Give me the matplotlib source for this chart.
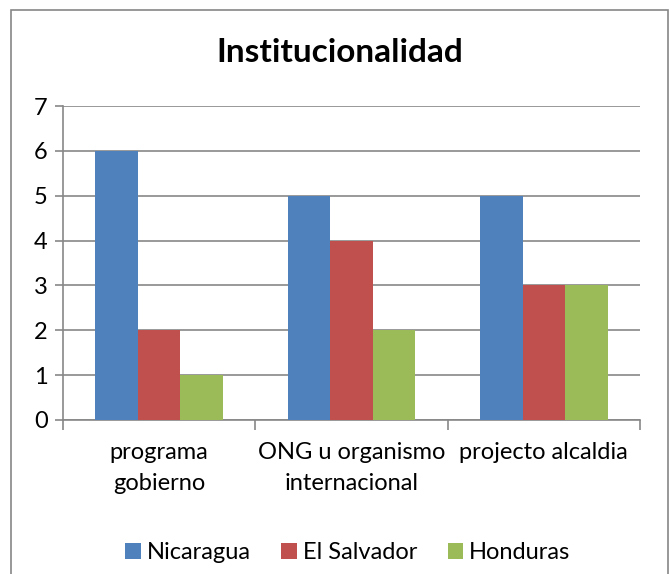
import matplotlib.pyplot as plt
import numpy as np
from matplotlib.patches import Rectangle

plt.rcParams['font.family'] = ['Lato', 'DejaVu Sans']

categories = ['programa\ngobierno', 'ONG u organismo\ninternacional', 'projecto alcaldia']
series = ['Nicaragua', 'El Salvador', 'Honduras']
nicaragua = [6, 5, 5]
el_salvador = [2, 4, 3]
honduras = [1, 2, 3]
colors = ['#4F81BD', '#C0504D', '#9BBB59']

fig = plt.figure(figsize=(6.69, 5.74), dpi=100)
ax = fig.add_axes([0.0942, 0.2683, 0.8625, 0.547])

# outer chart border
fig.patches.append(Rectangle((11 / 669, -0.01), 657 / 669, 1 - 10 / 574 + 0.01,
                             transform=fig.transFigure, fill=False,
                             edgecolor='#868686', linewidth=1.2))

x = np.arange(len(categories))
w = 0.221
for i, (vals, name) in enumerate(zip([nicaragua, el_salvador, honduras], series)):
    ax.bar(x + (i - 1) * w, vals, w, color=colors[i], label=name, zorder=3)

ax.set_xlim(-0.5, 2.5)
ax.set_ylim(0, 7)
ax.set_yticks(range(8))
ax.yaxis.grid(True, color='#878787', linewidth=1.2, zorder=0)
for s in ['top', 'right']:
    ax.spines[s].set_visible(False)
for s in ['left', 'bottom']:
    ax.spines[s].set_color('#878787')
    ax.spines[s].set_linewidth(1.2)

ax.set_xticks([-0.5, 0.5, 1.5, 2.5])
ax.set_xticklabels([])
ax.set_xticks(x, minor=True)
ax.set_xticklabels(categories, minor=True, fontsize=17, linespacing=1.55)
ax.tick_params(axis='x', which='major', length=7, width=1.2, color='#878787')
ax.tick_params(axis='x', which='minor', length=0, pad=16)
ax.tick_params(axis='y', length=6, width=1.2, color='#878787', labelsize=17, pad=5)

fig.text(0.508, 0.908, 'Institucionalidad', ha='center', va='center',
         fontsize=24, fontweight='bold')

fig.legend(loc='center', bbox_to_anchor=(0.52, 0.037), ncol=3, frameon=False,
           fontsize=17, handlelength=0.65, handleheight=0.65, handletextpad=0.25,
           columnspacing=1.3)

fig.savefig('out.png', dpi=100)
